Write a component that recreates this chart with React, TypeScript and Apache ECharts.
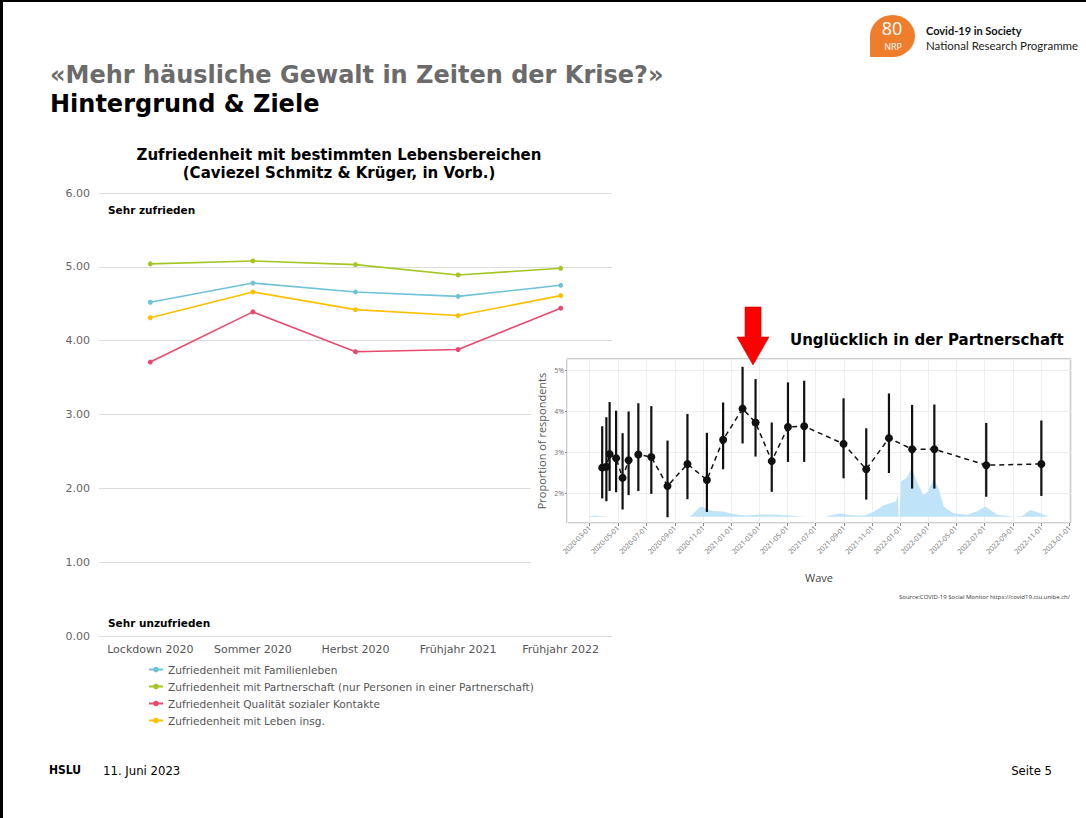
import React, { useEffect, useRef } from 'react';
import * as echarts from 'echarts';

// ---------- Main chart data ----------
const categories = ['Lockdown 2020', 'Sommer 2020', 'Herbst 2020', 'Frühjahr 2021', 'Frühjahr 2022'];
const familienleben = [4.52, 4.78, 4.66, 4.6, 4.75];
const partnerschaft = [5.04, 5.08, 5.03, 4.89, 4.98];
const sozialeKontakte = [3.71, 4.39, 3.85, 3.88, 4.44];
const lebenInsg = [4.31, 4.66, 4.42, 4.34, 4.61];
const seriesNames = [
  'Zufriedenheit mit Familienleben',
  'Zufriedenheit mit Partnerschaft (nur Personen in einer Partnerschaft)',
  'Zufriedenheit Qualität sozialer Kontakte',
  'Zufriedenheit mit Leben insg.',
];
const seriesColors = ['#6fc3d8', '#a4c523', '#e9496f', '#fcc000'];

// ---------- Inset chart data (COVID-19 Social Monitor) ----------
const waveDates = [
  '2020-03-28', '2020-04-06', '2020-04-13', '2020-04-27', '2020-05-11', '2020-05-24',
  '2020-06-14', '2020-07-12', '2020-08-16', '2020-09-28', '2020-11-09', '2020-12-14',
  '2021-01-25', '2021-02-22', '2021-03-29', '2021-05-03', '2021-06-07', '2021-08-31',
  '2021-10-19', '2021-12-07', '2022-01-26', '2022-03-15', '2022-07-05', '2022-11-01',
];
const waveValues = [
  2.62, 2.64, 2.95, 2.85, 2.37, 2.8, 2.94, 2.88, 2.17, 2.71, 2.32, 3.3,
  4.06, 3.72, 2.78, 3.61, 3.63, 3.2, 2.58, 3.34, 3.07, 3.07, 2.68, 2.71,
];
const waveLow = [
  1.87, 1.8, 2.05, 2.02, 1.6, 1.95, 2.05, 1.98, 1.41, 1.85, 1.54, 2.58,
  3.21, 2.89, 2.03, 2.76, 2.76, 2.36, 1.84, 2.49, 2.11, 2.11, 1.91, 1.93,
];
const waveHigh = [
  3.63, 3.85, 4.22, 4.01, 3.46, 3.99, 4.19, 4.12, 3.28, 3.93, 3.47, 4.21,
  5.08, 4.78, 3.72, 4.7, 4.74, 4.31, 3.58, 4.43, 4.15, 4.16, 3.71, 3.77,
];
const caseDates = [
  '2020-03-01', '2020-03-12', '2020-03-23', '2020-04-13', '2020-10-03', '2020-10-14',
  '2020-10-27', '2020-11-09', '2020-11-22', '2020-12-14', '2021-01-05', '2021-01-31',
  '2021-03-03', '2021-04-04', '2021-05-07', '2021-06-09', '2021-07-22', '2021-08-23',
  '2021-09-18', '2021-10-16', '2021-11-07', '2021-11-22', '2021-12-09', '2021-12-22',
  '2021-12-26', '2021-12-28', '2021-12-30', '2022-01-02', '2022-01-14', '2022-01-25', '2022-02-05',
  '2022-02-19', '2022-03-01', '2022-03-13', '2022-03-24', '2022-04-04', '2022-04-25',
  '2022-05-24', '2022-06-15', '2022-07-03', '2022-07-28', '2022-09-02', '2022-09-21',
  '2022-10-08', '2022-10-30', '2022-11-17',
];
const caseValues = [
  1.44, 1.45, 1.44, 1.42, 1.42, 1.54,
  1.68, 1.61, 1.56, 1.55, 1.49, 1.45,
  1.48, 1.48, 1.45, 1.42, 1.42, 1.5,
  1.46, 1.45, 1.56, 1.68, 1.75, 1.79,
  1.98, 1.42, 1.42, 2.29, 2.37, 2.61, 2.29,
  1.95, 2.03, 2.34, 2.12, 1.67, 1.51,
  1.47, 1.55, 1.67, 1.48, 1.42, 1.44,
  1.59, 1.51, 1.42,
];
const caseBaseline = 1.42;
const insetYMin = 1.27;
const insetYMax = 5.27;
const insetXMin = '2020-01-12';
const insetXMax = '2023-01-04';

const LEAF = 'M0 44 L0 22 A22 22 0 0 1 22 0 A22 22 0 0 1 44 22 A22 22 0 0 1 22 44 Z';
let leafRegistered = false;

const pad = (n: number) => (n < 10 ? '0' + n : '' + n);
const fmtDate = (v: number) => {
  const d = new Date(v);
  return d.getFullYear() + '-' + pad(d.getMonth() + 1) + '-' + pad(d.getDate());
};

export default function App() {
  const ref = useRef<HTMLDivElement>(null);
  useEffect(() => {
    if (!ref.current) return;
    if (!leafRegistered) {
      echarts.graphic.registerShape('nrpLeaf', echarts.graphic.extendPath(LEAF, {}));
      leafRegistered = true;
    }
    const chart = echarts.init(ref.current, null, { renderer: 'svg' });
    const dv = 'DejaVu Sans';
    const dvc = '"DejaVu Sans Condensed", "DejaVu Sans"';
    const os = '"Open Sans", "DejaVu Sans"';
    const mainSeries = [familienleben, partnerschaft, sozialeKontakte, lebenInsg].map((d, i) => ({
      name: seriesNames[i],
      type: 'line',
      xAxisIndex: 0,
      yAxisIndex: 0,
      data: d,
      symbol: 'circle',
      symbolSize: 5,
      color: seriesColors[i],
      lineStyle: { width: 1.6, color: seriesColors[i] },
      itemStyle: { color: seriesColors[i] },
      z: 2,
    }));
    const option: any = {
      animation: false,
      backgroundColor: '#ffffff',
      grid: [
        { left: 99, top: 193, width: 513, height: 443 },
        {
          left: 567, top: 359, width: 504, height: 164, show: true,
          backgroundColor: '#ffffff', borderColor: '#9a9a9a', borderWidth: 1, z: 3,
        },
      ],
      legend: {
        orient: 'vertical', left: 148, top: 664, padding: 0, itemGap: 6, itemWidth: 14, itemHeight: 7,
        textStyle: { fontSize: 10.6, color: '#555', fontFamily: dv },
        data: seriesNames,
      },
      xAxis: [
        {
          type: 'category', gridIndex: 0, data: categories,
          axisLine: { show: false }, axisTick: { show: false },
          axisLabel: { fontSize: 11, color: '#555', fontFamily: dv, margin: 8, interval: 0 },
        },
        {
          type: 'time', gridIndex: 1, min: insetXMin, max: insetXMax, z: 3,
          minInterval: 75 * 86400000, maxInterval: 75 * 86400000,
          axisLine: { show: false },
          axisTick: { show: true, length: 3, lineStyle: { color: '#888' } },
          splitLine: { show: true, lineStyle: { color: '#eeeeee', width: 1 } },
          axisLabel: {
            rotate: 45, fontSize: 7, color: '#707070', fontFamily: os, margin: 4,
            formatter: (v: number) => fmtDate(v),
          },
          name: 'Wave', nameLocation: 'middle', nameGap: 49,
          nameTextStyle: { fontSize: 11, color: '#444', fontFamily: os },
        },
      ],
      yAxis: [
        {
          type: 'value', gridIndex: 0, min: 0, max: 6, interval: 1,
          axisLine: { show: false }, axisTick: { show: false },
          splitLine: { lineStyle: { color: '#dcdcdc', width: 1 } },
          axisLabel: {
            fontSize: 11, color: '#666', fontFamily: dv, margin: 9,
            formatter: (v: number) => v.toFixed(2),
          },
        },
        {
          type: 'value', gridIndex: 1, min: insetYMin, max: insetYMax, splitNumber: 4, z: 3,
          axisLine: { show: false },
          axisTick: { show: true, length: 2, lineStyle: { color: '#888' } },
          splitLine: { show: true, lineStyle: { color: '#eeeeee', width: 1 } },
          axisLabel: {
            fontSize: 7, color: '#707070', fontFamily: os, margin: 3,
            showMinLabel: false, showMaxLabel: false,
            formatter: (v: number) => (Math.abs(v - Math.round(v)) < 1e-6 ? Math.round(v) + '%' : ''),
          },
          name: 'Proportion of respondents', nameLocation: 'middle', nameGap: 20,
          nameTextStyle: { fontSize: 11, color: '#555', fontFamily: os },
        },
      ],
      series: [
        ...mainSeries,
        {
          name: 'cases', type: 'line', xAxisIndex: 1, yAxisIndex: 1,
          data: caseDates.map((d, i) => [d, caseValues[i]]),
          symbol: 'none', smooth: false,
          lineStyle: { width: 0, color: '#bfe3f8' },
          areaStyle: { color: '#bfe3f8', opacity: 1, origin: caseBaseline },
          z: 4, silent: true,
        },
        {
          name: 'ci', type: 'custom', xAxisIndex: 1, yAxisIndex: 1,
          data: waveDates.map((d, i) => [d, waveLow[i], waveHigh[i]]),
          encode: { x: 0, y: [1, 2] },
          renderItem: (params: any, api: any) => {
            const x = api.value(0);
            const lo = api.coord([x, api.value(1)]);
            const hi = api.coord([x, api.value(2)]);
            return {
              type: 'line',
              shape: { x1: lo[0], y1: lo[1], x2: hi[0], y2: hi[1] },
              style: { stroke: '#111', lineWidth: 2.2 },
            };
          },
          z: 5,
        },
        {
          name: 'waves', type: 'line', xAxisIndex: 1, yAxisIndex: 1,
          data: waveDates.map((d, i) => [d, waveValues[i]]),
          symbol: 'circle', symbolSize: 8,
          lineStyle: { color: '#111', width: 1.5, type: [5, 4] },
          itemStyle: { color: '#111' },
          z: 6,
        },
      ],
      graphic: [
        { type: 'rect', shape: { x: 531, y: 352, width: 555, height: 258 }, style: { fill: '#ffffff' }, z: 1, silent: true },
        { type: 'rect', shape: { x: 0, y: 0, width: 3, height: 818 }, style: { fill: '#000' }, z: 20 },
        { type: 'rect', shape: { x: 0, y: 0, width: 1086, height: 2 }, style: { fill: '#000' }, z: 20 },
        {
          type: 'text', z: 20,
          style: { text: '«Mehr häusliche Gewalt in Zeiten der Krise?»', x: 50, y: 75, fill: '#6b6b6b', fontFamily: dv, fontWeight: 'bold', fontSize: 24, verticalAlign: 'middle' },
        },
        {
          type: 'text', z: 20,
          style: { text: 'Hintergrund & Ziele', x: 50, y: 104, fill: '#000', fontFamily: dv, fontWeight: 'bold', fontSize: 24, verticalAlign: 'middle' },
        },
        {
          type: 'text', z: 20,
          style: { text: 'Zufriedenheit mit bestimmten Lebensbereichen', x: 339, y: 155, fill: '#000', fontFamily: dv, fontWeight: 'bold', fontSize: 15, align: 'center', verticalAlign: 'middle' },
        },
        {
          type: 'text', z: 20,
          style: { text: '(Caviezel Schmitz & Krüger, in Vorb.)', x: 339, y: 173, fill: '#000', fontFamily: dv, fontWeight: 'bold', fontSize: 15, align: 'center', verticalAlign: 'middle' },
        },
        {
          type: 'text', z: 20,
          style: { text: 'Sehr zufrieden', x: 108, y: 210, fill: '#000', fontFamily: dv, fontWeight: 'bold', fontSize: 10.5, verticalAlign: 'middle' },
        },
        {
          type: 'text', z: 20,
          style: { text: 'Sehr unzufrieden', x: 108, y: 623, fill: '#000', fontFamily: dv, fontWeight: 'bold', fontSize: 10.5, verticalAlign: 'middle' },
        },
        {
          type: 'text', z: 20,
          style: { text: 'Unglücklich in der Partnerschaft', x: 790, y: 340, fill: '#000', fontFamily: dv, fontWeight: 'bold', fontSize: 15, verticalAlign: 'middle' },
        },
        {
          type: 'polygon', z: 20,
          shape: { points: [[745, 307], [761, 307], [761, 337], [769, 337], [753, 365], [737, 337], [745, 337]] },
          style: { fill: '#ff0000', stroke: '#d40000', lineWidth: 0.6 },
        },
        {
          type: 'text', z: 20,
          style: { text: 'Source:COVID-19 Social Monitor https://covid19.ctu.unibe.ch/', x: 1070, y: 597, fill: '#333', fontFamily: os, fontSize: 6, align: 'right', verticalAlign: 'middle' },
        },
        { type: 'nrpLeaf', x: 870, y: 15, scaleX: 45 / 44, scaleY: 42 / 44, style: { fill: '#ee7d2c' }, z: 20 },
        {
          type: 'text', z: 21,
          style: { text: '80', x: 892, y: 28, fill: '#fff', fontFamily: os, fontSize: 18, align: 'center', verticalAlign: 'middle' },
        },
        {
          type: 'text', z: 21,
          style: { text: 'NRP', x: 893, y: 46, fill: '#fff', fontFamily: os, fontSize: 9, align: 'center', verticalAlign: 'middle' },
        },
        {
          type: 'text', z: 20,
          style: { text: 'Covid-19 in Society', x: 926, y: 30, fill: '#111', fontFamily: 'Lato', fontWeight: 'bold', fontSize: 11, verticalAlign: 'middle' },
        },
        {
          type: 'text', z: 20,
          style: { text: 'National Research Programme', x: 926, y: 45, fill: '#222', fontFamily: 'Lato', fontSize: 11.5, verticalAlign: 'middle' },
        },
        {
          type: 'text', z: 20,
          style: { text: 'HSLU', x: 49, y: 770, fill: '#000', fontFamily: dvc, fontWeight: 'bold', fontSize: 12, verticalAlign: 'middle' },
        },
        {
          type: 'text', z: 20,
          style: { text: '11. Juni 2023', x: 103, y: 770, fill: '#000', fontFamily: dvc, fontSize: 13, verticalAlign: 'middle' },
        },
        {
          type: 'text', z: 20,
          style: { text: 'Seite 5', x: 1052, y: 770, fill: '#000', fontFamily: dvc, fontSize: 13, align: 'right', verticalAlign: 'middle' },
        },
      ],
    };
    chart.setOption(option);
    return () => chart.dispose();
  }, []);
  return (
    <div
      ref={ref}
      style={{ position: 'absolute', left: 0, top: 0, width: 1086, height: 818, background: '#fff' }}
    />
  );
}
